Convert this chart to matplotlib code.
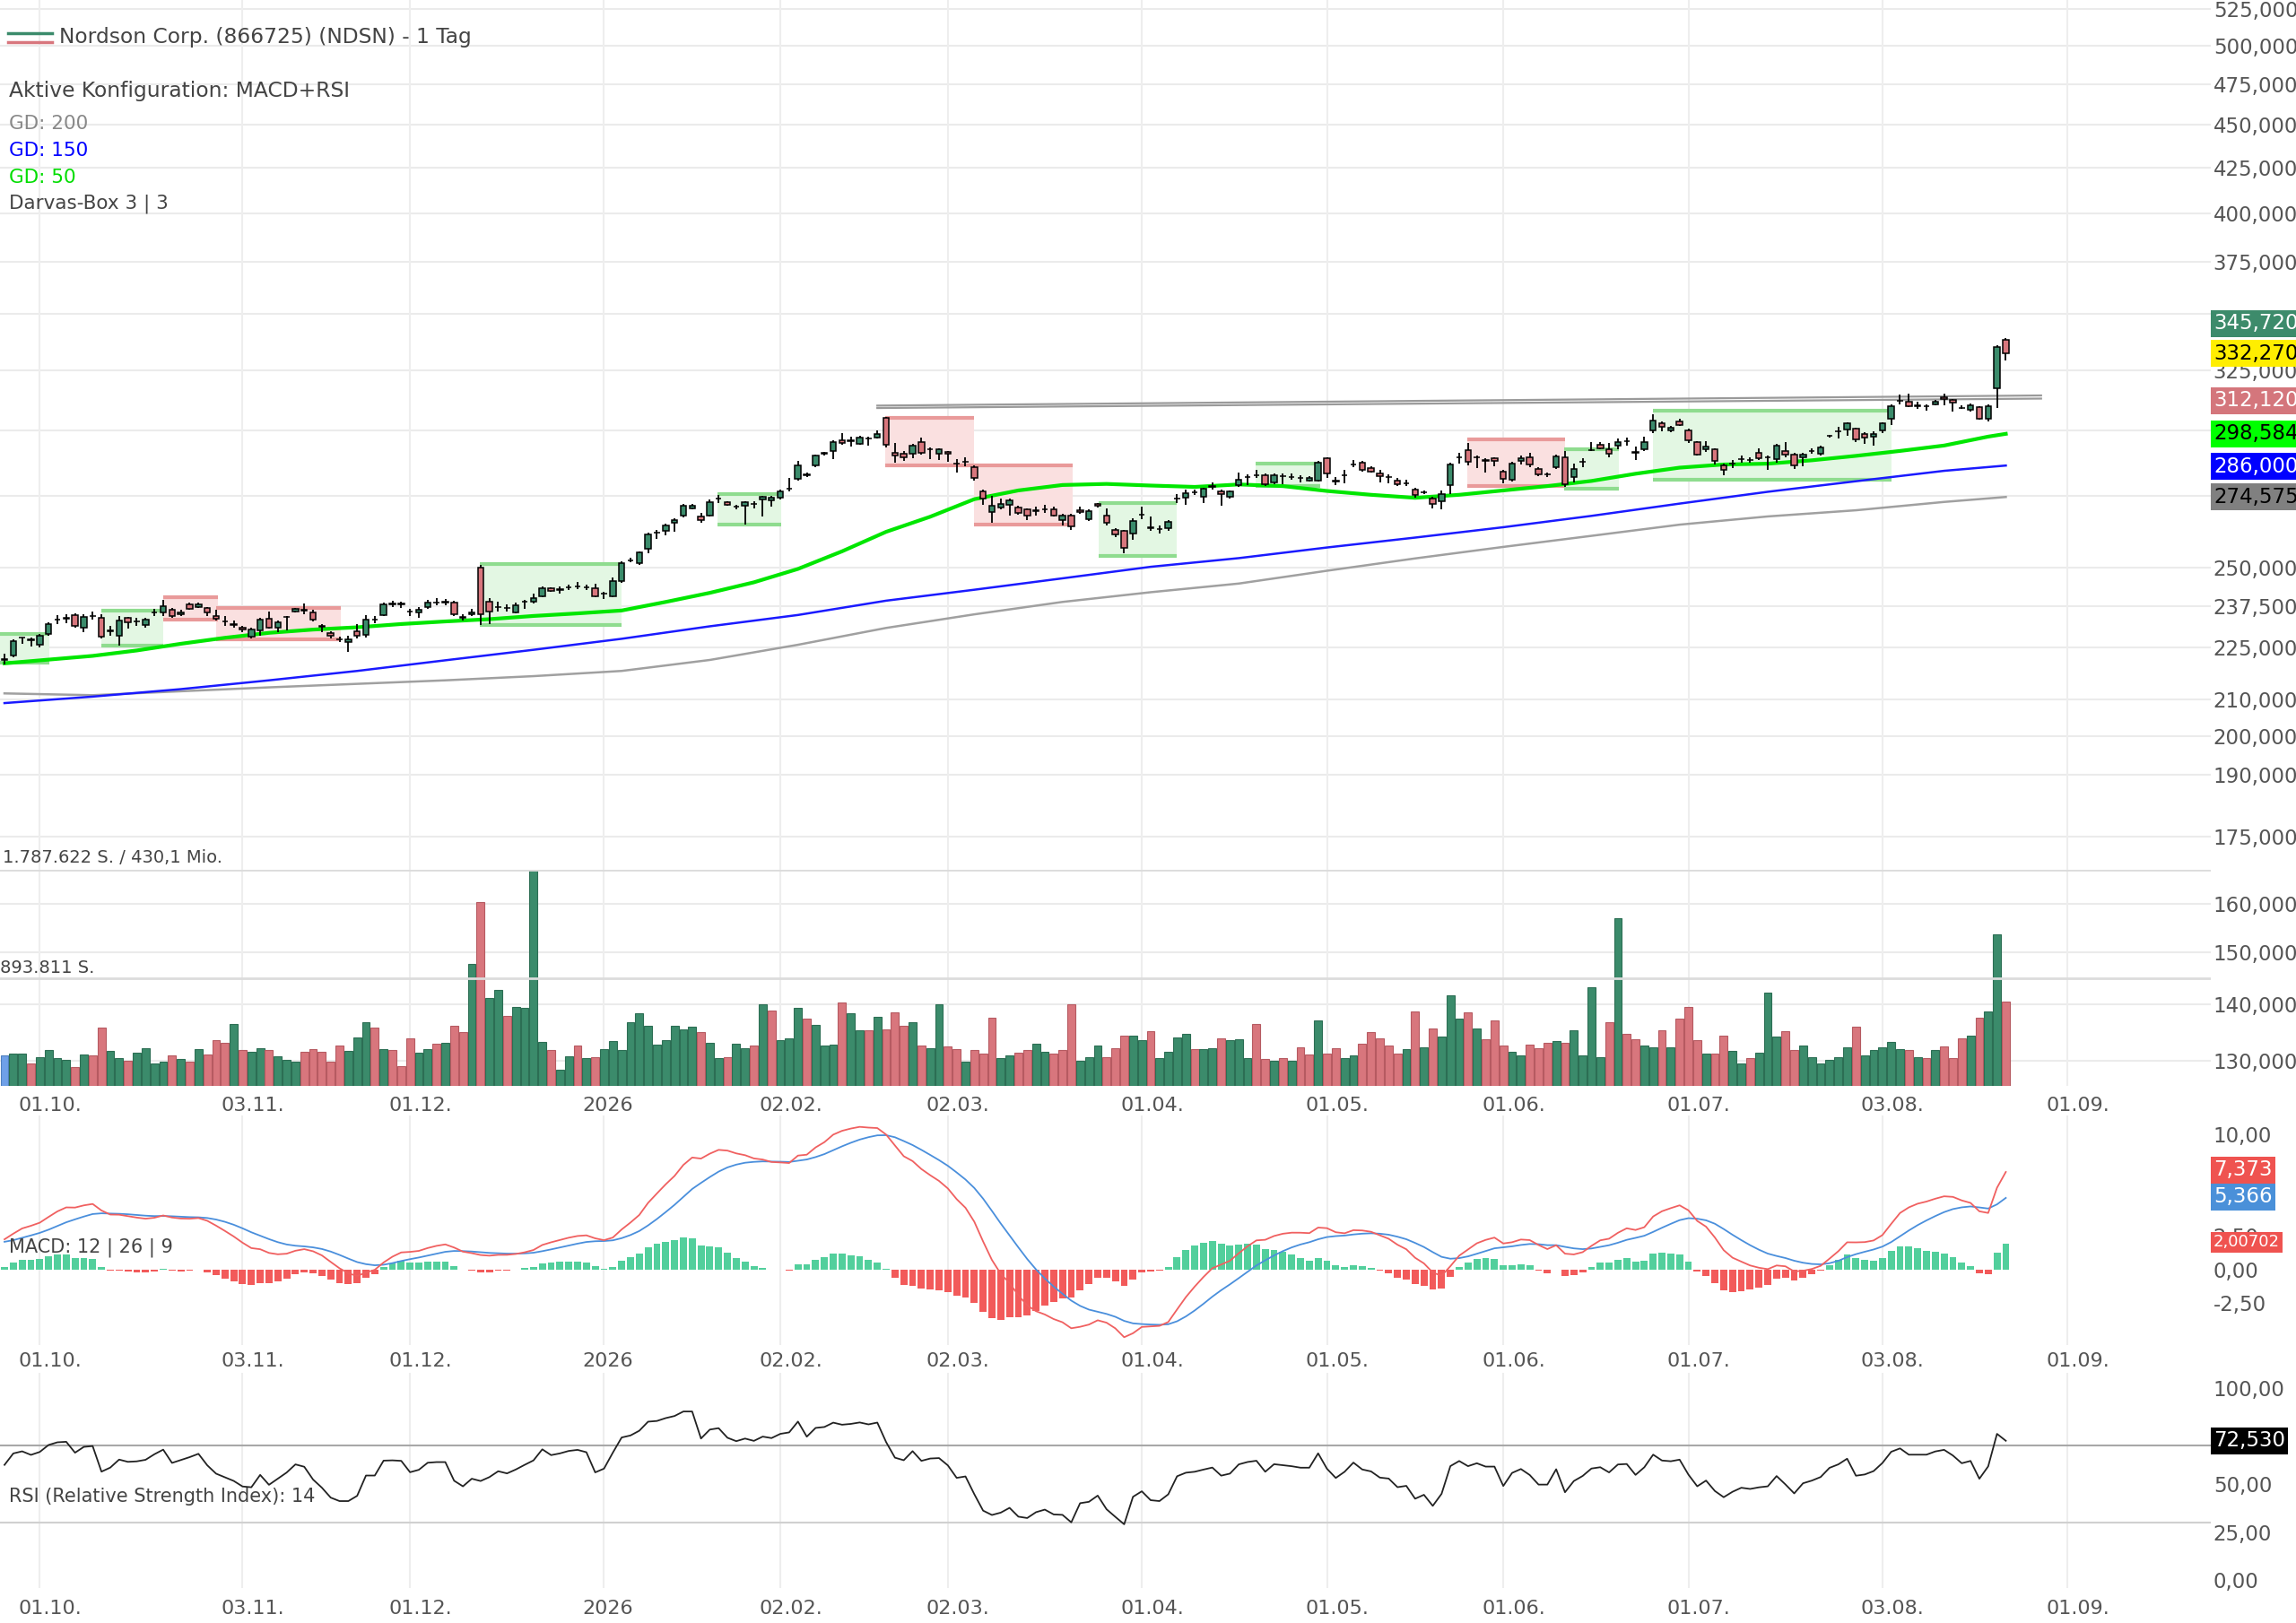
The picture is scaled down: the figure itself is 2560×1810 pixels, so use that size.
import numpy as np
import pandas as pd
import matplotlib
matplotlib.use('Agg')
import matplotlib.pyplot as plt
from matplotlib.lines import Line2D
from matplotlib.patches import Rectangle
from matplotlib.transforms import blended_transform_factory, ScaledTranslation

# Handelskalender (US-Boerse), erster Balken am 25.09.2025
start_day = '2025-09-25'
end_day = '2026-09-30'
holidays = ['2025-11-27', '2025-12-25', '2026-01-01', '2026-01-19', '2026-02-16',
            '2026-04-03', '2026-05-25', '2026-06-19', '2026-07-03', '2026-09-07']

# Tageskerzen
opens = [221.3, 222.4, 227.8, 227.2, 225.7, 228.9, 233.3, 233.7, 234.8, 230.9,
         234.5, 233.8, 230.0, 228.4, 233.8, 232.7, 231.8, 235.5, 235.6, 236.4,
         234.9, 238.1, 237.4, 236.9, 234.6, 232.8, 231.9, 230.9, 228.2, 230.1,
         233.7, 230.9, 234.1, 235.9, 236.3, 235.7, 231.3, 229.2, 227.3, 226.4,
         229.9, 228.7, 233.3, 234.8, 238.2, 238.3, 235.9, 235.6, 237.4, 238.7,
         238.9, 238.8, 234.2, 235.1, 250.0, 239.0, 237.3, 237.1, 235.7, 238.9,
         239.1, 240.7, 243.2, 242.8, 243.5, 243.8, 243.7, 243.3, 241.6, 240.7,
         245.6, 252.4, 251.5, 256.5, 261.8, 262.6, 265.3, 267.8, 270.5, 267.5,
         268.0, 273.9, 272.6, 271.1, 271.3, 272.0, 273.8, 273.5, 274.3, 277.6,
         281.4, 282.9, 286.2, 290.9, 291.9, 296.0, 295.9, 294.8, 296.9, 297.2,
         304.9, 291.3, 290.7, 290.7, 295.2, 292.5, 290.7, 291.5, 287.2, 287.7,
         285.7, 276.5, 269.1, 270.8, 271.8, 270.7, 270.0, 269.7, 270.2, 270.3,
         266.3, 268.0, 269.9, 266.7, 272.1, 267.9, 263.0, 262.4, 261.6, 268.2,
         263.7, 263.2, 263.4, 273.9, 274.3, 276.3, 274.8, 278.4, 276.7, 274.8,
         278.8, 281.9, 282.5, 282.6, 280.0, 282.2, 282.1, 281.5, 280.7, 280.7,
         289.0, 280.5, 282.7, 286.7, 287.5, 285.2, 283.3, 282.0, 280.7, 279.7,
         277.4, 276.4, 274.1, 273.0, 278.9, 289.5, 292.1, 289.4, 288.3, 289.0,
         283.9, 281.1, 288.2, 289.6, 285.0, 283.1, 285.8, 289.6, 281.9, 287.7,
         292.1, 294.2, 292.5, 294.0, 295.6, 291.4, 292.5, 300.0, 302.7, 300.0,
         303.4, 300.0, 295.2, 292.6, 292.6, 286.3, 286.9, 288.8, 288.4, 291.1,
         289.3, 288.9, 292.0, 290.4, 289.5, 291.7, 290.8, 297.7, 299.5, 300.3,
         300.5, 298.6, 297.6, 299.8, 304.5, 311.9, 311.7, 310.0, 309.8, 310.5,
         313.5, 312.4, 309.1, 308.4, 309.3, 304.7, 317.1, 338.2]
closes = [221.5, 226.8, 227.9, 227.0, 228.4, 232.0, 233.5, 233.8, 231.4, 234.2,
          234.6, 228.2, 229.8, 233.2, 232.6, 232.8, 233.4, 235.6, 237.6, 234.6,
          235.7, 236.8, 238.1, 235.6, 233.6, 232.7, 231.8, 230.4, 230.2, 233.3,
          230.9, 232.5, 234.2, 236.7, 236.2, 233.3, 231.2, 228.3, 227.2, 227.2,
          228.3, 233.4, 233.4, 238.2, 238.3, 238.2, 235.8, 236.5, 238.6, 238.8,
          238.8, 235.1, 233.8, 235.6, 235.1, 236.0, 237.4, 237.0, 237.9, 239.0,
          240.1, 243.3, 242.4, 242.9, 243.6, 243.9, 243.6, 240.7, 241.5, 245.6,
          251.5, 252.5, 255.0, 261.3, 261.9, 264.4, 266.4, 271.5, 271.5, 266.3,
          272.8, 274.0, 271.8, 271.0, 272.6, 272.1, 274.6, 274.3, 276.8, 277.7,
          286.2, 282.8, 290.1, 291.0, 295.5, 295.0, 295.8, 297.2, 296.8, 298.4,
          294.2, 290.2, 289.5, 294.0, 291.3, 292.4, 292.6, 290.7, 287.1, 287.6,
          281.6, 273.9, 271.4, 272.1, 273.5, 268.8, 268.0, 269.6, 270.3, 268.0,
          267.8, 264.0, 269.1, 269.5, 271.3, 265.4, 261.3, 256.6, 266.0, 268.3,
          263.6, 263.1, 265.7, 274.0, 275.9, 276.4, 277.5, 278.5, 275.6, 276.5,
          280.8, 282.0, 282.6, 279.2, 282.6, 282.3, 282.0, 281.6, 281.6, 287.5,
          283.3, 280.4, 282.8, 286.8, 284.7, 284.1, 282.2, 281.9, 279.2, 279.6,
          275.2, 276.3, 272.0, 275.5, 286.8, 289.6, 287.8, 289.3, 288.2, 288.2,
          281.4, 287.1, 289.0, 286.8, 283.0, 283.0, 289.8, 279.4, 285.0, 287.8,
          292.2, 293.0, 290.8, 295.4, 295.7, 291.3, 295.5, 303.9, 301.5, 301.2,
          302.2, 296.2, 290.6, 293.5, 288.1, 284.5, 287.0, 288.9, 288.3, 289.0,
          289.4, 293.8, 290.4, 286.3, 290.6, 291.8, 293.4, 297.8, 299.6, 302.7,
          296.4, 297.0, 298.6, 302.7, 309.6, 312.0, 309.9, 309.9, 309.9, 311.7,
          312.6, 311.1, 309.0, 310.0, 304.7, 309.9, 335.1, 332.3]
highs = [223.0, 227.3, 228.0, 228.0, 229.0, 232.5, 234.8, 235.0, 235.3, 235.0,
         235.8, 235.0, 231.5, 234.5, 234.3, 234.0, 234.0, 236.8, 239.5, 237.0,
         236.3, 238.6, 238.8, 237.4, 236.5, 234.6, 233.0, 231.3, 230.8, 234.0,
         236.0, 233.0, 234.6, 237.0, 238.5, 236.5, 232.0, 229.8, 228.2, 228.3,
         232.0, 234.8, 234.5, 238.7, 239.3, 239.0, 236.8, 237.3, 239.5, 240.0,
         239.8, 239.2, 235.0, 236.8, 251.0, 240.0, 239.0, 238.2, 238.8, 239.5,
         241.5, 243.8, 243.7, 243.8, 244.5, 245.3, 244.5, 244.6, 242.2, 246.8,
         252.0, 253.2, 255.6, 261.8, 262.8, 265.0, 267.0, 272.0, 272.0, 269.0,
         273.6, 275.3, 273.0, 271.8, 273.2, 273.2, 275.0, 275.0, 277.3, 281.5,
         288.0, 283.5, 290.6, 291.6, 296.0, 299.0, 297.5, 297.8, 297.5, 300.0,
         305.4, 295.0, 292.0, 294.5, 297.0, 293.2, 293.0, 292.0, 288.8, 289.3,
         286.3, 277.3, 275.0, 274.0, 274.0, 271.3, 270.5, 271.0, 271.8, 271.0,
         268.5, 268.5, 271.0, 270.3, 272.5, 270.5, 263.5, 263.0, 267.0, 271.0,
         267.5, 264.5, 266.3, 275.5, 277.2, 277.3, 278.0, 280.0, 277.2, 277.0,
         283.5, 283.0, 284.5, 283.3, 283.2, 283.2, 283.3, 282.7, 282.2, 288.0,
         289.6, 282.0, 284.5, 288.5, 288.2, 286.0, 284.5, 283.0, 281.5, 281.0,
         278.0, 277.0, 274.7, 277.0, 287.5, 291.3, 295.0, 290.0, 289.0, 289.6,
         284.5, 287.6, 290.3, 291.0, 285.6, 283.8, 290.5, 292.0, 287.0, 289.0,
         295.5, 295.3, 295.0, 296.8, 297.0, 293.5, 297.3, 306.5, 303.4, 301.8,
         304.8, 300.5, 295.8, 295.8, 293.0, 287.0, 288.3, 290.0, 289.3, 292.8,
         290.0, 294.5, 295.3, 291.0, 291.0, 293.0, 294.0, 298.3, 301.5, 303.3,
         301.0, 299.3, 299.5, 303.3, 310.5, 314.5, 315.0, 311.5, 310.5, 312.3,
         315.0, 312.8, 310.0, 310.8, 309.8, 310.5, 336.0, 339.0]
lows = [220.0, 222.0, 226.0, 225.3, 225.0, 228.5, 232.0, 232.3, 231.0, 229.5,
        233.3, 227.5, 228.5, 225.5, 230.5, 231.5, 230.8, 234.5, 234.5, 234.0,
        234.5, 236.3, 237.0, 234.6, 233.0, 231.5, 231.0, 229.5, 227.5, 228.5,
        230.5, 229.5, 230.0, 235.5, 235.0, 232.8, 229.5, 227.5, 226.5, 223.5,
        227.5, 228.0, 232.3, 234.5, 237.4, 237.0, 234.5, 233.8, 236.8, 237.8,
        237.8, 234.5, 233.0, 234.6, 231.8, 232.0, 236.0, 236.0, 235.2, 236.8,
        238.5, 240.3, 242.0, 241.5, 242.8, 243.0, 242.8, 240.3, 239.8, 240.3,
        245.0, 251.8, 251.0, 254.8, 259.7, 261.0, 262.2, 267.2, 270.0, 265.5,
        267.5, 272.5, 271.3, 270.2, 264.8, 270.5, 267.5, 271.0, 273.8, 276.8,
        280.5, 281.8, 285.8, 290.0, 288.8, 294.3, 293.5, 294.3, 293.8, 296.8,
        293.3, 287.5, 288.0, 289.0, 290.5, 288.8, 288.5, 287.8, 283.8, 286.0,
        280.5, 271.8, 265.5, 270.0, 268.0, 268.3, 266.3, 268.0, 268.8, 267.5,
        264.5, 262.8, 268.5, 266.0, 270.8, 264.5, 260.3, 254.8, 259.5, 266.5,
        262.5, 261.5, 262.5, 272.5, 271.8, 275.3, 272.5, 277.3, 271.3, 274.0,
        278.3, 279.0, 281.5, 278.7, 279.4, 279.4, 280.8, 279.8, 280.3, 280.3,
        281.5, 278.8, 279.5, 285.6, 284.0, 283.5, 279.8, 279.5, 278.5, 278.5,
        274.5, 275.8, 270.5, 270.3, 275.8, 287.0, 286.5, 285.5, 283.5, 286.0,
        279.5, 280.3, 286.8, 285.8, 282.2, 282.0, 285.0, 278.3, 280.0, 285.8,
        292.0, 292.5, 289.3, 292.5, 294.0, 288.5, 292.0, 299.0, 299.5, 299.4,
        301.8, 295.0, 290.0, 291.5, 286.8, 282.5, 285.5, 287.5, 287.3, 288.5,
        284.5, 287.5, 289.5, 285.0, 286.0, 290.8, 290.3, 297.0, 296.8, 298.0,
        295.5, 294.5, 294.0, 299.0, 302.0, 310.5, 309.3, 308.5, 308.0, 310.0,
        310.0, 307.5, 308.5, 307.5, 304.2, 303.5, 309.0, 329.0]

# Umsatz in Tausend Stueck und Richtung (g = hoeher, r = tiefer, b = erster Tag)
volume_k = [253, 265, 270, 183, 235, 295, 228, 215, 158, 258,
            253, 483, 287, 228, 210, 272, 314, 183, 198, 253,
            223, 198, 307, 260, 376, 357, 513, 295, 282, 310,
            295, 245, 215, 203, 282, 302, 282, 203, 332, 290,
            401, 530, 480, 307, 295, 166, 396, 277, 302, 347,
            357, 500, 446, 1008, 1523, 728, 797, 579, 656, 649,
            1787.622, 364, 295, 136, 248, 332, 228, 238, 302, 371,
            297, 525, 604, 500, 339, 376, 500, 470, 488, 446,
            357, 228, 240, 352, 310, 334, 678, 624, 376, 394,
            649, 557, 505, 334, 339, 693, 599, 458, 458, 569,
            468, 607, 500, 525, 332, 310, 678, 327, 302, 198,
            295, 270, 567, 228, 253, 272, 295, 347, 285, 265,
            297, 678, 210, 235, 334, 240, 314, 418, 418, 376,
            456, 228, 282, 401, 431, 307, 307, 310, 396, 376,
            384, 228, 513, 223, 210, 228, 210, 322, 260, 542,
            265, 310, 228, 253, 352, 443, 396, 334, 265, 302,
            617, 319, 475, 406, 748, 555, 607, 475, 384, 542,
            334, 282, 253, 344, 310, 357, 369, 357, 458, 253,
            817, 240, 525, 1387, 433, 389, 334, 319, 458, 322,
            557, 656, 376, 270, 270, 418, 290, 186, 233, 277,
            773, 406, 451, 295, 332, 240, 186, 215, 235, 319,
            488, 253, 295, 322, 364, 307, 295, 240, 228, 297,
            327, 228, 396, 418, 562, 612, 1255, 698]
vol_dir = ("bggrggggrgr" "rggrggggrg" "rgrrrgrggr" "gggrrrrrgg" "grgrrrggrg"
           "rrgrggrggg" "grggrgrggg" "ggggggggrg" "grggrgrggg" "rgggrggrgr"
           "rrgrggrrgr" "rrggrrggrr" "rgggrrrggr" "ggggrggrgg" "grrgrgrrgr"
           "rggrrrrrgr" "grgggrgrrr" "ggrrrgrggg" "grgrrggrgr" "rrgrrggrgg"
           "grrggggggr" "gggggrgrgr" "rrgrggr")
dollar_volume = '430,1 Mio.'

# gleitende Durchschnitte (GD)
gd50_idx = [0, 5, 10, 15, 20, 25, 30, 35, 40, 45, 50, 55, 60, 65, 70, 75, 80, 85, 90, 95,
            100, 105, 110, 115, 120, 125, 130, 135, 140, 145, 150, 155, 160, 165, 170,
            175, 180, 185, 190, 195, 200, 205, 210, 215, 220, 225, 227]
gd50 = [220.2, 221.3, 222.4, 224.0, 226.0, 227.8, 229.3, 230.3, 231.0, 232.0, 232.8, 233.5,
        234.5, 235.3, 236.2, 238.9, 241.8, 245.2, 249.6, 255.5, 262.2, 267.5, 273.8, 277.0,
        279.0, 279.4, 278.8, 278.3, 279.2, 278.6, 276.8, 275.4, 274.3, 275.4, 277.0, 278.6,
        280.5, 283.2, 285.5, 286.7, 287.0, 288.3, 290.0, 291.9, 294.0, 297.5, 298.6]
ma_idx = [0, 10, 20, 30, 40, 50, 60, 70, 80, 90, 100, 110,
          120, 130, 140, 150, 160, 170, 180, 190, 200, 210, 220, 227]
gd150 = [208.9, 210.7, 212.8, 215.3, 218.0, 221.1, 224.2, 227.5, 231.3, 234.8, 239.3, 242.8,
         246.5, 250.3, 253.2, 256.8, 260.2, 263.8, 267.8, 272.2, 276.5, 280.4, 284.3, 286.3]
gd200 = [211.6, 211.1, 212.2, 213.3, 214.3, 215.3, 216.5, 218.0, 221.2, 225.7, 230.8, 235.0,
         238.9, 242.0, 244.8, 249.0, 253.1, 257.0, 260.8, 264.7, 267.6, 269.8, 272.8, 274.6]

# Darvas-Boxen (Start/Ende in Handelstagen)
box_start = [-0.5, 11.0, 18.0, 24.0, 53.9, 80.9, 99.9, 110.0, 124.1, 141.9, 165.9, 176.9, 187.0]
box_end = [5.1, 18.0, 24.2, 38.1, 70.0, 88.1, 110.0, 121.2, 133.0, 149.2, 177.0, 183.1, 214.0]
box_low = [220.4, 225.5, 233.4, 227.2, 231.7, 264.8, 286.5, 264.8, 253.8, 278.5, 278.5, 277.7, 280.8]
box_high = [228.9, 236.2, 240.3, 237.1, 251.2, 275.5, 304.9, 286.5, 272.5, 287.0, 296.3, 292.4, 308.0]
box_up = [True, True, False, False, True, True, False, False, True, True, False, True, True]

# Widerstandslinie (doppelt)
res_x = [99, 231]
res_upper = [310.0, 314.2]
res_lower = [309.0, 312.9]

# Kursmarken an der rechten Achse
price_marks = [345.72, 332.27, 312.12, 298.584, 286.0, 274.575]
price_mark_bg = ['#3d8b6b', '#ffee00', '#d4767c', '#00ff00', '#0000ff', '#808080']
price_mark_fg = ['white', 'black', 'white', 'black', 'white', 'black']
price_ticks = [130, 140, 150, 160, 175, 190, 200, 210, 225, 237.5, 250, 275, 300,
               325, 350, 375, 400, 425, 450, 475, 500, 525]
price_hidden = [275, 300, 350]      # von Kursmarken verdeckt

# Indikatoren: Startwerte
ema12_gap, ema26_gap, signal_start = 2.4, 4.6, 2.0
rsi_gain0, rsi_loss0 = 1.5, 1.0
macd_marks = [7.373, 5.366, 2.00702]
macd_ticks = [-2.5, 0, 2.5, 5, 7.5, 10]
macd_hidden = [5, 7.5]
rsi_mark = 72.53
rsi_ticks = [0, 25, 50, 75, 100]
rsi_hidden = [75]

GREEN = '#3b8b6b'
RED = '#d8767d'
TXT = '#444444'
TICK = '#555555'

plt.rcParams['font.family'] = ['DejaVu Sans']

W, H = 2560, 1810
fig = plt.figure(figsize=(W / 100, H / 100), dpi=100)
fig.patch.set_facecolor('white')


def rect(top, bottom, right=2465):
    return [0, 1 - bottom / H, right / W, (bottom - top) / H]


def tick_text(values, hidden, digits):
    return ['' if v in hidden else f'{v:.{digits}f}'.replace('.', ',') for v in values]


ax = fig.add_axes(rect(0, 1211))
axv = fig.add_axes(rect(970, 1211))
axm = fig.add_axes(rect(1244, 1500))
axr = fig.add_axes(rect(1531, 1771))

o = np.array(opens)
c = np.array(closes)
h = np.array(highs)
l = np.array(lows)
idx = np.arange(len(c))

days = pd.bdate_range(start_day, end_day, freq='C', holidays=holidays)
xmax = 250.25
tick_pos, tick_lab = [], []
for i in range(1, len(days)):
    if days[i].month != days[i - 1].month and i < xmax:
        tick_pos.append(i)
        tick_lab.append(str(days[i].year) if days[i].month == 1 else days[i].strftime('%d.%m.'))

for a in (ax, axv, axm, axr):
    a.set_xlim(-0.51, xmax)
    a.set_facecolor('none')
    for s in a.spines.values():
        s.set_visible(False)
ax.set_facecolor('white')

# --- Kurs-Chart ---
ax.set_yscale('log')
ax.set_ylim(125.7, 531.0)
ax.minorticks_off()
ax.yaxis.tick_right()
ax.set_yticks(price_ticks)
ax.set_yticklabels(tick_text(price_ticks, price_hidden, 3))
for v in price_ticks:
    ax.axhline(v, color='#ebebeb', lw=1.5, zorder=0)
for p in tick_pos:
    for a in (ax, axm, axr):
        a.axvline(p, color='#eeeeee', lw=1.5, zorder=0)

for s, e, lo, hi, upb in zip(box_start, box_end, box_low, box_high, box_up):
    fc, ec = ('#e3f7e3', '#8fdc8f') if upb else ('#fae0e0', '#e99a9a')
    ax.add_patch(Rectangle((s, lo), e - s, hi - lo, facecolor=fc, edgecolor='none', zorder=1))
    ax.plot([s, e], [lo, lo], color=ec, lw=3, zorder=1.5, solid_capstyle='butt')
    ax.plot([s, e], [hi, hi], color=ec, lw=3, zorder=1.5, solid_capstyle='butt')

ax.plot(ma_idx, gd200, color='#a0a0a0', lw=1.8, zorder=2)
ax.plot(ma_idx, gd150, color='#1a1aff', lw=1.8, zorder=2)
ax.plot(gd50_idx, gd50, color='#00e600', lw=3.0, zorder=2, solid_joinstyle='round')

ax.plot(res_x, res_upper, color='#9a9a9a', lw=1.6, zorder=3)
ax.plot(res_x, res_lower, color='#9a9a9a', lw=1.6, zorder=3)

ax.vlines(idx, l, h, color='black', lw=1.3, zorder=4)
body_col = np.where(c >= o, GREEN, RED)
ax.bar(idx, np.maximum(np.abs(c - o), 0.08), bottom=np.minimum(o, c), width=0.66,
       color=body_col, edgecolor='black', linewidth=1.1, zorder=5)

tr = blended_transform_factory(ax.transAxes, ax.transData)
for v, bg, fg in zip(price_marks, price_mark_bg, price_mark_fg):
    ax.text(1.0 + 3 / 2465, v, f'{v:.3f}'.replace('.', ','), transform=tr, ha='left', va='center',
            fontsize=16.5, color=fg, clip_on=False, zorder=20,
            bbox=dict(boxstyle='square,pad=0.15', fc=bg, ec='none'))

# --- Umsatz ---
max_vol = max(volume_k) * 1000
vol_colors = {'g': GREEN, 'r': RED, 'b': '#6fa0e8'}
vol_edges = {'g': '#2c6e54', 'r': '#b65a61', 'b': '#5080c0'}
axv.bar(idx, np.array(volume_k) * 1000, width=0.9,
        color=[vol_colors[d] for d in vol_dir], edgecolor=[vol_edges[d] for d in vol_dir], linewidth=0.8)
axv.set_ylim(0, max_vol)
axv.axhline(max_vol, color='#dcdcdc', lw=2)
axv.axhline(max_vol / 2, color='#dcdcdc', lw=2)
axv.set_xticks([])
axv.set_yticks([])

# --- MACD ---
def ema(values, n, first):
    k = 2.0 / (n + 1)
    out, prev = [], first
    for v in values:
        prev = prev + k * (v - prev)
        out.append(prev)
    return np.array(out)


macd = ema(c, 12, c[0] - ema12_gap) - ema(c, 26, c[0] - ema26_gap)
signal = ema(macd, 9, signal_start)
hist = macd - signal
axm.bar(idx, hist, width=0.8, color=np.where(hist >= 0, '#52cf9c', '#f25a5a'), zorder=2)
axm.plot(idx, signal, color='#4a8fdc', lw=1.3, zorder=3)
axm.plot(idx, macd, color='#f06060', lw=1.3, zorder=3)
axm.set_ylim(-5.6, 11.4)
axm.yaxis.tick_right()
axm.set_yticks(macd_ticks)
axm.set_yticklabels(tick_text(macd_ticks, macd_hidden, 2))
trm = blended_transform_factory(axm.transAxes, axm.transData)
for v, bg, fs in zip(macd_marks, ['#ef5350', '#4a90d9', '#ef5350'], [16.5, 16.5, 13]):
    txt = f'{v:.3f}' if v > 3 else f'{v:.5f}'
    axm.text(1.0 + 3 / 2465, v, txt.replace('.', ','), transform=trm, ha='left', va='center',
             fontsize=fs, color='white', clip_on=False, zorder=20,
             bbox=dict(boxstyle='square,pad=0.15', fc=bg, ec='none'))

# --- RSI ---
gain, loss, prev = rsi_gain0, rsi_loss0, c[0]
rsi = []
for v in c:
    d = v - prev
    prev = v
    gain = (gain * 13 + max(d, 0)) / 14
    loss = (loss * 13 + max(-d, 0)) / 14
    rsi.append(100 - 100 / (1 + gain / loss))
axr.axhline(70, color='#a8a8a8', lw=1.5, zorder=1)
axr.axhline(30, color='#d0d0d0', lw=1.5, zorder=1)
axr.plot(idx, rsi, color='#222222', lw=1.3, zorder=3)
axr.set_ylim(-4.2, 108)
axr.yaxis.tick_right()
axr.set_yticks(rsi_ticks)
axr.set_yticklabels(tick_text(rsi_ticks, rsi_hidden, 2))
trr = blended_transform_factory(axr.transAxes, axr.transData)
axr.text(1.0 + 3 / 2465, rsi_mark, f'{rsi_mark:.3f}'.replace('.', ','), transform=trr, ha='left',
         va='center', fontsize=16.5, color='white', clip_on=False, zorder=20,
         bbox=dict(boxstyle='square,pad=0.15', fc='black', ec='none'))

# Achsenbeschriftung
shift = ScaledTranslation(-24 / 100, 0, fig.dpi_scale_trans)
for a, pad in ((ax, 8.5), (axm, 6), (axr, 9.5)):
    a.set_xticks(tick_pos)
    a.set_xticklabels(tick_lab)
    a.tick_params(axis='x', length=0, pad=pad, labelsize=16, labelcolor=TICK)
    a.tick_params(axis='y', length=0, pad=2, labelsize=16.5, labelcolor=TICK)
    for lab in a.get_xticklabels():
        lab.set_ha('left')
        lab.set_transform(lab.get_transform() + shift)


def ftext(x, y, s, **kw):
    fig.text(x / W, 1 - y / H, s, **kw)


fig.add_artist(Line2D([9 / W, 58 / W], [1 - 37 / H, 1 - 37 / H], color=GREEN, lw=2.5))
fig.add_artist(Line2D([9 / W, 58 / W], [1 - 47 / H, 1 - 47 / H], color=RED, lw=2.5))
ftext(66, 48, 'Nordson Corp. (866725) (NDSN) - 1 Tag', fontsize=16.8, color=TXT, va='baseline')
ftext(10, 108, 'Aktive Konfiguration: MACD+RSI', fontsize=16.8, color=TXT, va='baseline')
ftext(10, 144, 'GD: 200', fontsize=15.5, color='#888888', va='baseline')
ftext(10, 174, 'GD: 150', fontsize=15.5, color='#0000ff', va='baseline')
ftext(10, 204, 'GD: 50', fontsize=15.5, color='#00dd00', va='baseline')
ftext(10, 233, 'Darvas-Box 3 | 3', fontsize=15.5, color=TXT, va='baseline')

vol_str = f'{max_vol:,.0f}'.replace(',', '.')
half_str = f'{max_vol / 2:,.0f}'.replace(',', '.')
ftext(3, 957, f'{vol_str} S. / {dollar_volume}', fontsize=14, color=TXT, va='center')
ftext(0, 1079, f'{half_str} S.', fontsize=14, color=TXT, va='center')
ftext(10, 1391, 'MACD: 12 | 26 | 9', fontsize=15, color=TXT, va='center')
ftext(10, 1669, 'RSI (Relative Strength Index): 14', fontsize=15, color=TXT, va='center')

fig.savefig('out.png', dpi=100)
